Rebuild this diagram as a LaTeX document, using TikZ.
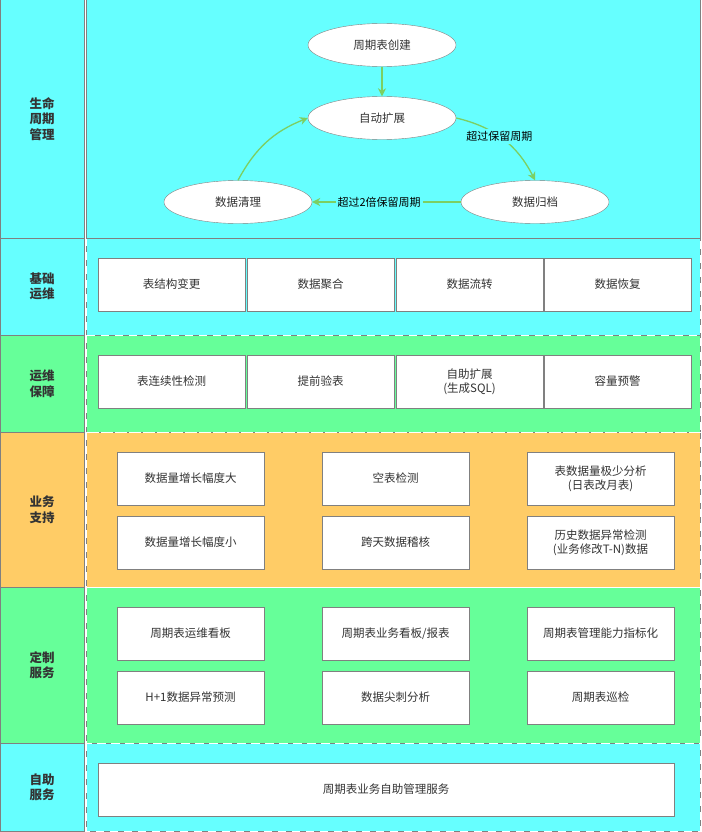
\documentclass[tikz,border=0pt]{standalone}
\usepackage{fontspec}
\setmainfont{Noto Sans CJK SC}
\usetikzlibrary{arrows.meta,shapes.geometric}
\definecolor{cy}{HTML}{66FFFF}
\definecolor{gr}{HTML}{66FF99}
\definecolor{or}{HTML}{FFCC66}
\definecolor{ln}{HTML}{808080}
\definecolor{ar}{HTML}{7CCF62}
\begin{document}
\begin{tikzpicture}[x=1pt,y=-1pt,
  pan/.style={draw=ln,line width=1pt},
  dsh/.style={draw=white,dash pattern=on 8pt off 6pt,line width=1pt},
  bx/.style={draw=ln,fill=white,font=\fontsize{11.5}{14}\selectfont,text=black!80,align=center,minimum width=147pt,minimum height=53pt,inner sep=0},
  el/.style={ellipse,draw=ln,fill=white,font=\fontsize{11.5}{14}\selectfont,text=black!80,minimum width=148pt,minimum height=43pt,inner sep=0},
  ga/.style={draw=ar,line width=1.3pt,-{Stealth[length=8pt,width=8pt]}},
  el2/.style={font=\fontsize{11}{13}\selectfont,text=black,fill=cy,inner sep=2pt}]
\useasboundingbox (0,0) rectangle (701,832);
\foreach \a/\b/\c/\t in {0/238/cy/{生命\\周期\\管理},238/335/cy/{基础\\运维},335/432/gr/{运维\\保障},432/587/or/{业务\\支持},587/743/gr/{定制\\服务},743/831/cy/{自助\\服务}}{
  \fill[\c] (0.5,\a) rectangle (84,\b);
  \draw[pan] (0.5,\a) rectangle (84,\b);
  \node[font=\fontsize{12.5}{15.5}\selectfont\bfseries,text=black!80,align=center] at (42,{(\a+\b)/2}) {\t};
  \fill[\c] (86,\a) rectangle (700.5,\b);
  \draw[pan] (86,\a) rectangle (700.5,\b);
}
\foreach \a/\b in {238/335,335/432,432/587,587/743,743/831}{
  \draw[dsh] (86,\a) rectangle (700.5,\b);
}
\draw[pan] (86,0.5) -- (86,238) (86,238)--(700.5,238);
\node[el] (c) at (382,45) {周期表创建};
\node[el] (e) at (382,118) {自动扩展};
\node[el] (q) at (238,202) {数据清理};
\node[el] (g) at (535,202) {数据归档};
\draw[ga] (c) -- (e);
\draw[ga] (e.east) to[bend left=25] node[el2,pos=0.45] {超过保留周期} (g.north);
\draw[ga] (g.west) -- node[el2,pos=0.55] {超过2倍保留周期} (q.east);
\draw[ga] (q.north) to[bend left=20] (e.west);
\node[bx] (a1) at (171.5,284.5) {表结构变更};
\node[bx] (a2) at (320.5,284.5) {数据聚合};
\node[bx] (a3) at (469.5,284.5) {数据流转};
\node[bx] (a4) at (617.5,284.5) {数据恢复};
\node[bx] (b1) at (171.5,381.5) {表连续性检测};
\node[bx] (b2) at (320.5,381.5) {提前验表};
\node[bx] (b3) at (469.5,381.5) {自助扩展\\(生成SQL)};
\node[bx] (b4) at (617.5,381.5) {容量预警};
\node[bx] (c1) at (190.5,478.5) {数据量增长幅度大};
\node[bx] (c2) at (395.5,478.5) {空表检测};
\node[bx] (c3) at (600.5,478.5) {表数据量极少分析\\(日表改月表)};
\node[bx] (c4) at (190.5,542.5) {数据量增长幅度小};
\node[bx] (c5) at (395.5,542.5) {跨天数据稽核};
\node[bx] (c6) at (600.5,542.5) {历史数据异常检测\\(业务修改T-N)数据};
\node[bx] (d1) at (190.5,633.5) {周期表运维看板};
\node[bx] (d2) at (395.5,633.5) {周期表业务看板/报表};
\node[bx] (d3) at (600.5,633.5) {周期表管理能力指标化};
\node[bx] (d4) at (190.5,697.5) {H+1数据异常预测};
\node[bx] (d5) at (395.5,697.5) {数据尖刺分析};
\node[bx] (d6) at (600.5,697.5) {周期表巡检};
\node[bx,minimum width=576pt] (s) at (386,789.5) {周期表业务自助管理服务};
\end{tikzpicture}
\end{document}
